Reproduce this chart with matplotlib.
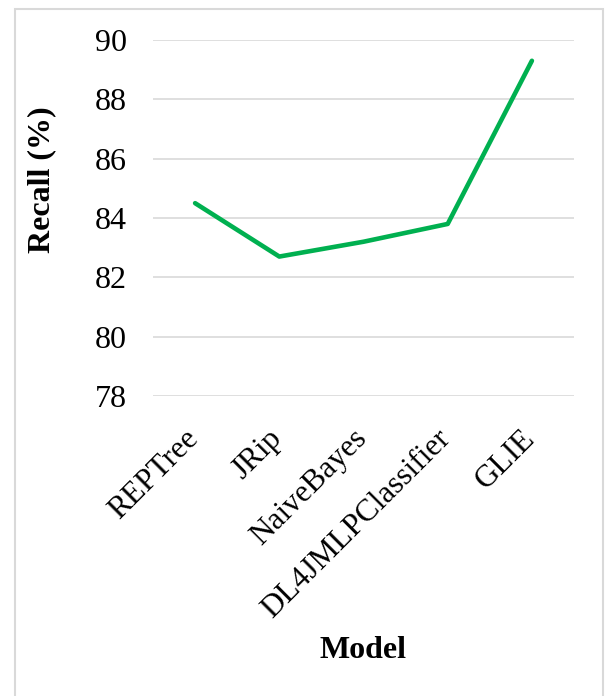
import matplotlib
matplotlib.use('Agg')
import matplotlib.pyplot as plt
import matplotlib.transforms as mtransforms
from matplotlib.patches import Rectangle

models = ['REPTree', 'JRip', 'NaiveBayes', 'DL4JMLPClassifier', 'GLIE']
recall = [84.5, 82.7, 83.2, 83.8, 89.3]
y_ticks = [78, 80, 82, 84, 86, 88, 90]

plt.rcParams['font.family'] = ['Liberation Serif', 'DejaVu Serif']

fig = plt.figure(figsize=(6.05, 6.96), dpi=100)
ax = fig.add_axes([153 / 605, 1 - 396 / 696, 421 / 605, 356 / 696])

x = list(range(len(models)))
ax.plot(x, recall, color='#00B050', linewidth=3.3, solid_capstyle='round',
        solid_joinstyle='round', zorder=3)

ax.set_xlim(-0.5, len(models) - 0.5)
ax.set_ylim(78, 90)
ax.set_yticks(y_ticks)
ax.yaxis.grid(True, color='#D9D9D9', linewidth=1.2)
ax.set_axisbelow(True)
for s in ax.spines.values():
    s.set_visible(False)

ax.tick_params(axis='y', length=0, pad=19, labelsize=23)
ax.tick_params(axis='x', length=0, pad=20, labelsize=22.5)
ax.set_xticks(x)
ax.set_xticklabels(models, rotation=45, ha='right')
# nudge the rotated labels so their ends sit just right of the ticks
shift = mtransforms.ScaledTranslation(9 / 100, 0, fig.dpi_scale_trans)
for lbl in ax.get_xticklabels():
    lbl.set_transform(lbl.get_transform() + shift)

fig.text(42 / 605, 1 - 180 / 696, 'Recall (%)', rotation=90, ha='center',
         va='center', fontsize=23, fontweight='bold')
fig.text(363 / 605, 1 - 651 / 696, 'Model', ha='center', va='center',
         fontsize=23, fontweight='bold')

# light outline around the chart area
fig.patches.append(Rectangle((15 / 605, -0.01), (603 - 15) / 605, 1 - 9 / 696 + 0.01,
                             transform=fig.transFigure, fill=False,
                             edgecolor='#D9D9D9', linewidth=1.5))

fig.savefig('out.png', dpi=100)
plt.close()
